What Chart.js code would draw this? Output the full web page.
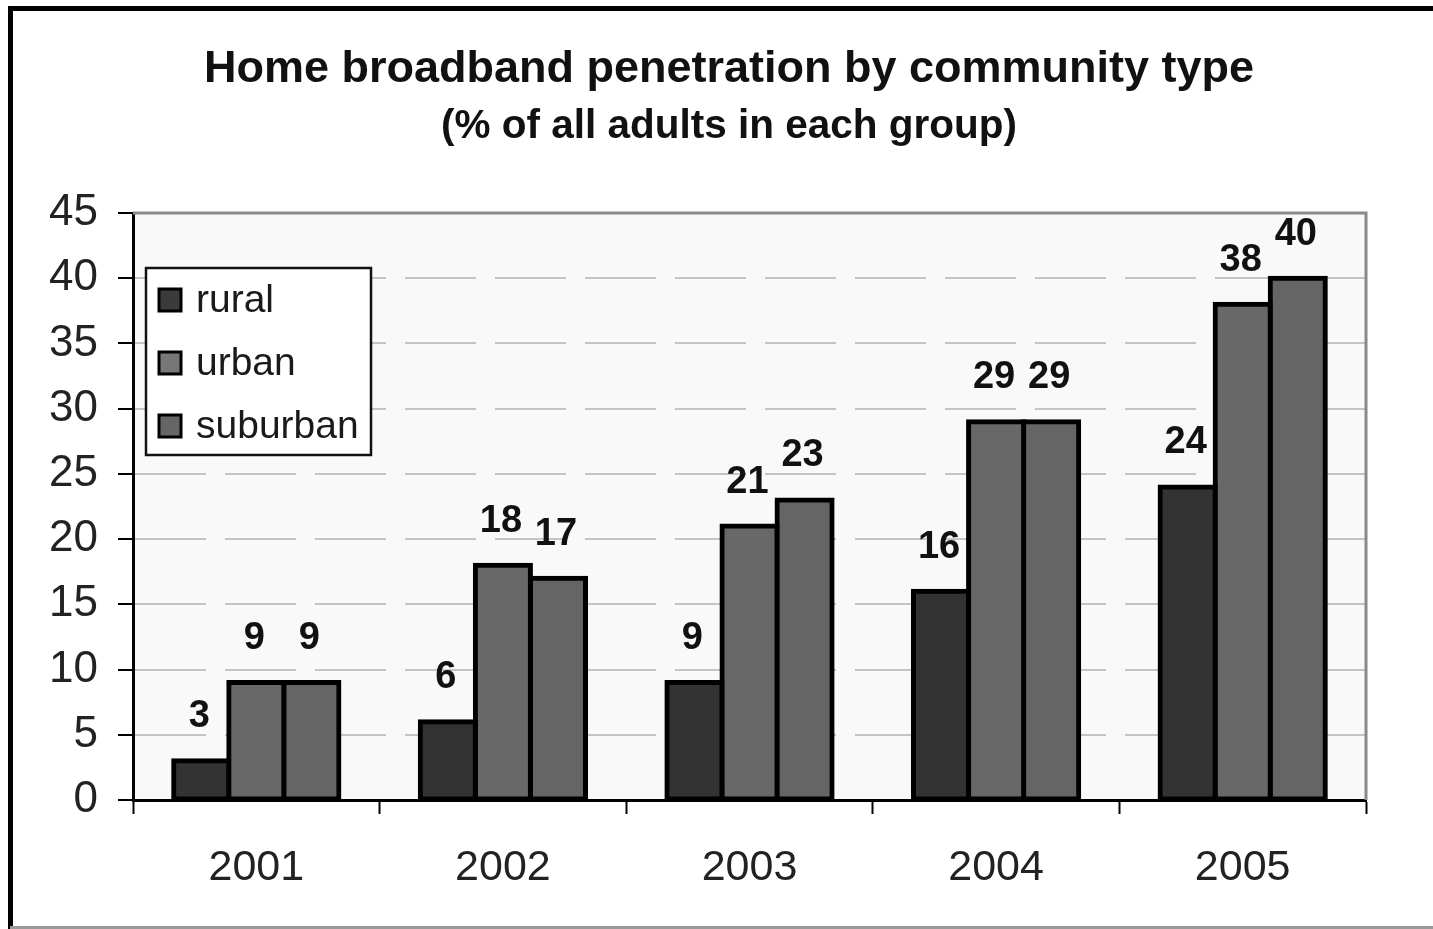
<!DOCTYPE html>
<html>
<head>
<meta charset="utf-8">
<title>Home broadband penetration by community type</title>
<script src="https://cdn.jsdelivr.net/npm/chart.js@4/dist/chart.umd.min.js"></script>
<style>
  html, body { margin: 0; padding: 0; background: #fff; }
  canvas { display: block; }
</style>
</head>
<body>
<canvas id="chart" width="1433" height="929"></canvas>
<script>
// Survey years (categories)
const years = ['2001', '2002', '2003', '2004', '2005'];

// Share of adults with home broadband, % of each community type
const rural = [3, 6, 9, 16, 24];
const urban = [9, 18, 21, 29, 38];
const suburban = [9, 17, 23, 29, 40];

// Value axis range
const yMin = 0;
const yMax = 45;
const yStep = 5;

const FONT = '"Liberation Sans", Arial, Helvetica, sans-serif';

// White page, outer frame and the light plot background
const backgroundPlugin = {
  id: 'pageBackground',
  beforeDraw(chart) {
    const { ctx, chartArea: a, width, height } = chart;
    ctx.save();
    ctx.fillStyle = '#ffffff';
    ctx.fillRect(0, 0, width, height);
    ctx.fillStyle = '#f9f9f9';
    ctx.fillRect(a.left, a.top, a.right - a.left, a.bottom - a.top);
    ctx.strokeStyle = '#000000';
    ctx.lineWidth = 5;
    ctx.beginPath();
    ctx.moveTo(10.5, height);
    ctx.lineTo(10.5, 8.5);
    ctx.lineTo(width, 8.5);
    ctx.stroke();
    ctx.strokeStyle = '#9a9a9a';
    ctx.lineWidth = 3;
    ctx.beginPath();
    ctx.moveTo(10, height - 1.5);
    ctx.lineTo(width, height - 1.5);
    ctx.stroke();
    ctx.restore();
  }
};

// Grey frame on the top and right of the plot area
const plotFramePlugin = {
  id: 'plotFrame',
  beforeDatasetsDraw(chart) {
    const { ctx, chartArea: a } = chart;
    ctx.save();
    ctx.strokeStyle = '#8a8a8a';
    ctx.lineWidth = 3;
    ctx.beginPath();
    ctx.moveTo(a.left, a.top);
    ctx.lineTo(a.right, a.top);
    ctx.lineTo(a.right, a.bottom);
    ctx.stroke();
    ctx.restore();
  }
};

// Value printed above each bar
const valueLabelPlugin = {
  id: 'valueLabels',
  afterDatasetsDraw(chart) {
    const { ctx } = chart;
    ctx.save();
    ctx.font = 'bold 38px ' + FONT;
    ctx.fillStyle = '#111111';
    ctx.textAlign = 'center';
    ctx.textBaseline = 'middle';
    chart.data.datasets.forEach((ds, i) => {
      const meta = chart.getDatasetMeta(i);
      meta.data.forEach((bar, j) => {
        ctx.fillText(String(ds.data[j]), bar.x - 2, bar.y - 44);
      });
    });
    ctx.restore();
  }
};

// Boxed legend placed inside the plot area
const boxLegendPlugin = {
  id: 'boxLegend',
  afterDraw(chart) {
    const { ctx, chartArea: a } = chart;
    const x = a.left + 13;
    const y = a.top + 55;
    const w = 225;
    const h = 187;
    ctx.save();
    ctx.fillStyle = '#ffffff';
    ctx.fillRect(x, y, w, h);
    ctx.strokeStyle = '#111111';
    ctx.lineWidth = 2.5;
    ctx.strokeRect(x, y, w, h);
    ctx.font = '39px ' + FONT;
    ctx.textAlign = 'left';
    ctx.textBaseline = 'middle';
    chart.data.datasets.forEach((ds, i) => {
      const cy = y + 32 + i * 63;
      const bx = x + 13;
      ctx.fillStyle = ds.legendColor || ds.backgroundColor;
      ctx.fillRect(bx, cy - 11, 22, 22);
      ctx.strokeStyle = '#000000';
      ctx.lineWidth = 3;
      ctx.strokeRect(bx, cy - 11, 22, 22);
      ctx.fillStyle = '#1a1a1a';
      ctx.fillText(ds.label, x + 50, cy + 1);
    });
    ctx.restore();
  }
};

const barStyle = {
  borderColor: '#000000',
  borderWidth: 5,
  inflateAmount: 2.5,
  borderSkipped: false,
  categoryPercentage: 0.67,
  barPercentage: 1.0
};

new Chart(document.getElementById('chart'), {
  type: 'bar',
  data: {
    labels: years,
    datasets: [
      Object.assign({ label: 'rural', data: rural, backgroundColor: '#333333', legendColor: '#3a3a3a' }, barStyle),
      Object.assign({ label: 'urban', data: urban, backgroundColor: '#686868', legendColor: '#777777' }, barStyle),
      Object.assign({ label: 'suburban', data: suburban, backgroundColor: '#656565', legendColor: '#666666' }, barStyle)
    ]
  },
  options: {
    responsive: false,
    devicePixelRatio: 1,
    animation: false,
    layout: { padding: { left: 25, right: 0, top: 0, bottom: 0 } },
    plugins: {
      legend: { display: false },
      tooltip: { enabled: false },
      title: {
        display: true,
        text: 'Home broadband penetration by community type',
        color: '#111111',
        font: { family: FONT, size: 45, weight: 'bold', lineHeight: 1.2 },
        padding: { top: 43, bottom: 0 }
      },
      subtitle: {
        display: true,
        text: '(% of all adults in each group)',
        color: '#111111',
        font: { family: FONT, size: 40.5, weight: 'bold', lineHeight: 1.2 },
        padding: { top: 5.7, bottom: 61.7 }
      }
    },
    scales: {
      x: {
        grid: {
          display: true,
          drawOnChartArea: false,
          drawTicks: true,
          offset: true,
          tickLength: 14,
          tickColor: '#000000',
          tickWidth: 2
        },
        border: { display: true, color: '#000000', width: 3 },
        ticks: {
          color: '#222222',
          padding: 28,
          font: { family: FONT, size: 43 }
        },
        afterFit(scale) { scale.height = 129; }
      },
      y: {
        min: yMin,
        max: yMax,
        grid: {
          color: '#c4c4c4',
          lineWidth: 2,
          drawTicks: true,
          tickLength: 15,
          tickColor: '#000000',
          tickWidth: 2,
          tickBorderDash: []
        },
        border: { display: true, color: '#000000', width: 3, dash: [71, 19] },
        ticks: {
          stepSize: yStep,
          color: '#222222',
          padding: 20,
          font: { family: FONT, size: 44 }
        },
        afterFit(scale) { scale.width = 108; }
      },
      // empty right-hand margin axis: keeps the plot clear of the right edge
      yRight: {
        position: 'right',
        min: yMin,
        max: yMax,
        grid: { display: false },
        border: { display: false },
        ticks: { display: false },
        afterFit(scale) { scale.width = 67; }
      }
    }
  },
  plugins: [backgroundPlugin, plotFramePlugin, valueLabelPlugin, boxLegendPlugin]
});
</script>
</body>
</html>
